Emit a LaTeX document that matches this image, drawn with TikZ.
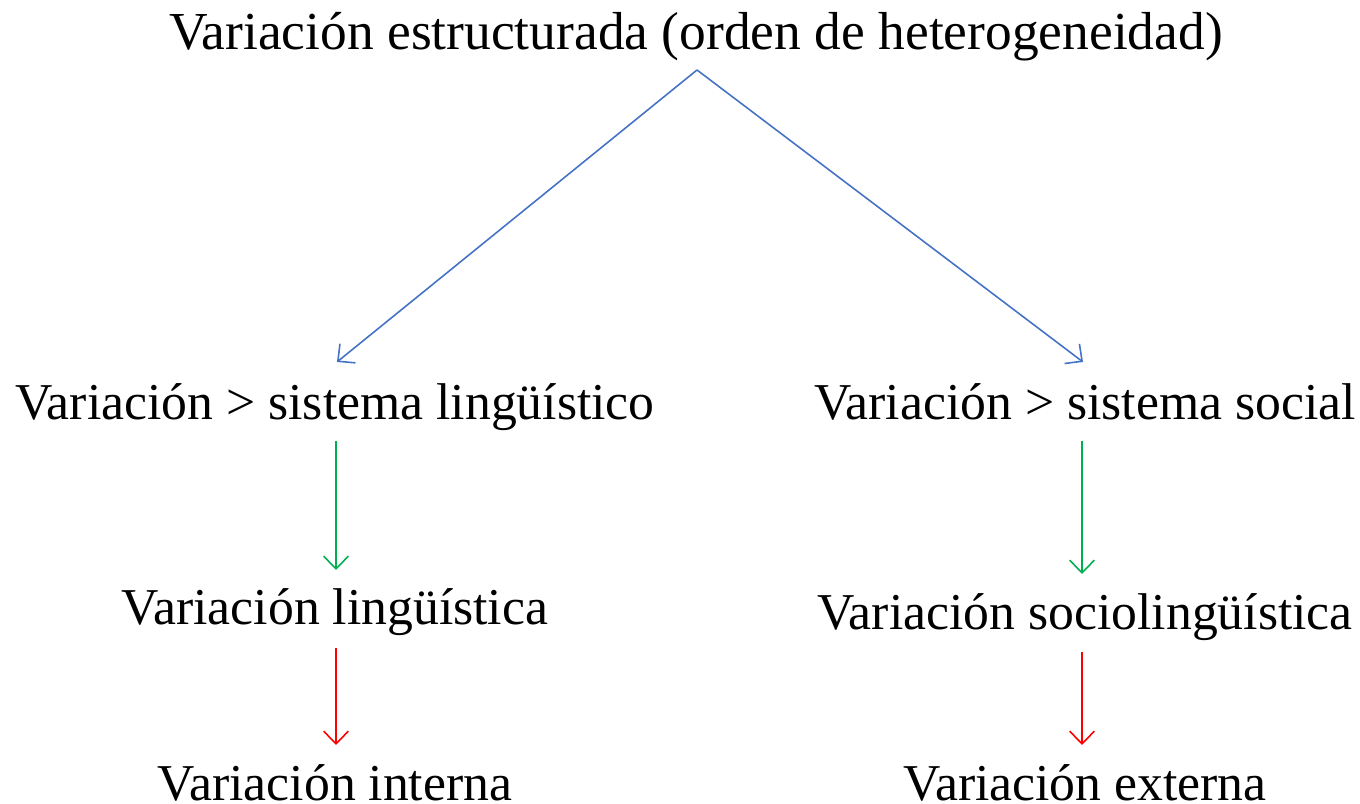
\documentclass[tikz,border=0pt]{standalone}
\usepackage{fontspec}
\setmainfont{Liberation Serif}
\usetikzlibrary{arrows.meta}
\definecolor{ablue}{RGB}{68,114,196}
\definecolor{agreen}{RGB}{0,176,80}
\definecolor{ared}{RGB}{255,0,0}
\tikzset{
  lbl/.style={anchor=base, inner sep=0pt, font=\fontsize{14.7}{17}\selectfont},
  ttl/.style={lbl, font=\fontsize{15.2}{18}\selectfont},
  conn/.style={line width=0.45pt, -{Straight Barb[length=3.6pt,width=7pt,line width=0.45pt]}},
}
\begin{document}
\begin{tikzpicture}[x=0.01cm,y=-0.01cm]
\useasboundingbox (0,0) rectangle (1360,804);
\node[ttl] (top) at (696,50) {Variación estructurada (orden de heterogeneidad)};
\coordinate (apex) at (697,70);
\node[lbl] (sl) at (335,420) {Variación > sistema lingüístico};
\node[lbl] (ss) at (1085,420) {Variación > sistema social};
\node[lbl] (vl) at (335,625) {Variación lingüística};
\node[lbl] (vs) at (1085,630) {Variación sociolingüística};
\node[lbl] (vi) at (335,801) {Variación interna};
\node[lbl] (ve) at (1085,801) {Variación externa};
\coordinate (slt) at (337,362);
\coordinate (sst) at (1083,362);
\coordinate (g1s) at (336,441); \coordinate (g1e) at (336,570);
\coordinate (g2s) at (1082,441); \coordinate (g2e) at (1082,574);
\coordinate (r1s) at (336,648); \coordinate (r1e) at (336,745);
\coordinate (r2s) at (1082,652); \coordinate (r2e) at (1082,745);
\draw[conn, ablue] (apex) -- (slt);
\draw[conn, ablue] (apex) -- (sst);
\draw[conn, agreen] (g1s) -- (g1e);
\draw[conn, agreen] (g2s) -- (g2e);
\draw[conn, ared] (r1s) -- (r1e);
\draw[conn, ared] (r2s) -- (r2e);
\end{tikzpicture}
\end{document}
